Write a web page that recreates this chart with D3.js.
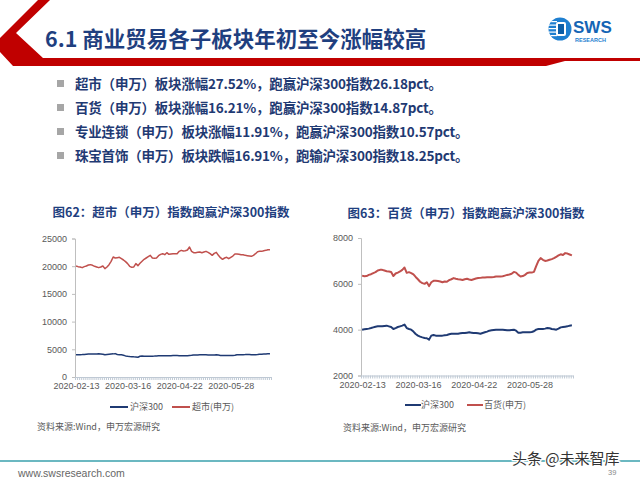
<!DOCTYPE html>
<html><head><meta charset="utf-8">
<script src="https://cdn.jsdelivr.net/npm/d3@7"></script>
<style>html,body{margin:0;padding:0;background:#fff;} svg{display:block;}</style>
</head><body><svg id="c" width="640" height="480"></svg>
<script>
// ---------------- DATA ----------------
const pageTitle = "6.1 商业贸易各子板块年初至今涨幅较高";
const bullets = [
  "超市（申万）板块涨幅27.52%，跑赢沪深300指数26.18pct。",
  "百货（申万）板块涨幅16.21%，跑赢沪深300指数14.87pct。",
  "专业连锁（申万）板块涨幅11.91%，跑赢沪深300指数10.57pct。",
  "珠宝首饰（申万）板块跌幅16.91%，跑输沪深300指数18.25pct。"
];
const dateLabels = ["2020-02-13", "2020-03-16", "2020-04-22", "2020-05-28"];
const dateLabelIndex = [0, 25, 50, 75];
const seriesNames = ["沪深300", "超市(申万)", "百货(申万)"];
const hs300 = [
  4000,4015,4030,4045,4070,4100,4130,4145,4145,4145,
  4160,4175,4145,4115,4030,4070,4115,4145,4175,4220,
  4070,4030,4000,3915,3810,3740,3695,3665,3640,3625,
  3565,3740,3770,3740,3740,3740,3740,3755,3770,3800,
  3825,3825,3825,3825,3840,3855,3855,3870,3885,3870,
  3855,3855,3840,3825,3855,3885,3915,3955,3970,3985,
  4000,4000,4000,4000,3985,3970,3970,3985,4000,3955,
  3870,3870,3885,3885,3885,3885,3900,3930,4000,4030,
  4030,4030,4045,4070,4060,4030,4015,4000,4045,4100,
  4115,4130,4145,4175,4190
];
const supermarket = [
  20040,19920,19860,19740,19920,20040,20220,20280,20160,19980,
  19860,19740,19860,20040,19560,19860,20280,20880,21660,21480,
  21540,21600,21360,21120,20820,20460,19980,19800,19860,20460,
  20100,20520,20880,21240,21480,21720,21960,21480,21420,21480,
  21900,22140,22260,22080,22440,22140,22200,22260,22260,22260,
  22680,22860,22740,22800,22920,23460,22680,22440,22440,22500,
  22560,22440,22560,22680,22500,22260,21960,22320,22500,21960,
  21540,21240,21480,21600,21360,21600,21840,22200,22200,22140,
  22080,22080,21960,21900,21840,21780,21960,22260,22620,22680,
  22680,22800,22860,22980,22980
];
const department = [
  6360,6330,6340,6390,6420,6470,6510,6580,6610,6610,
  6580,6550,6540,6520,6340,6450,6490,6540,6610,6710,
  6480,6510,6470,6410,6300,6200,6090,6030,6000,6070,
  5900,6070,6130,6130,6120,6100,6070,6100,6090,6160,
  6200,6250,6220,6200,6190,6170,6200,6220,6190,6170,
  6200,6230,6250,6260,6280,6280,6290,6290,6290,6300,
  6320,6320,6320,6330,6360,6390,6410,6440,6520,6490,
  6390,6320,6340,6390,6470,6490,6490,6520,6770,7000,
  7120,7050,7000,7020,7050,7080,7120,7180,7240,7290,
  7260,7340,7320,7280,7240
];
const leftTicks = [0, 5000, 10000, 15000, 20000, 25000];
const rightTicks = [2000, 4000, 6000, 8000];
const chartTitles = ["图62：超市（申万）指数跑赢沪深300指数", "图63：百货（申万）指数跑赢沪深300指数"];
const sourceNote = "资料来源:Wind，申万宏源研究";

// ---------------- DRAW ----------------
const svg = d3.select("#c");
const CJK = "'Noto Sans CJK SC','Noto Sans',sans-serif";
const LAT = "'Liberation Sans',Arial,sans-serif";
const NAVY = "#1F3A73";
const RED = "#C0504D";
const TITLEC = "#1F3F7F";

svg.append("rect").attr("width", 640).attr("height", 480).attr("fill", "#fff");

// header red shape
svg.append("polygon")
  .attr("points", "38,0 50,0 16,33 43,58 640,58 640,61 565,61 546,66 13,66 0,52 0,38")
  .attr("fill", "#C00000");

svg.append("text").attr("x", 45).attr("y", 47)
  .attr("font-family", CJK).attr("font-size", 21.5).attr("font-weight", 700)
  .attr("fill", TITLEC).text(pageTitle);

// logo
const logo = svg.append("g");
const defs = svg.append("defs");
defs.append("clipPath").attr("id", "lc").append("circle").attr("cx", 560).attr("cy", 29).attr("r", 11.5);
logo.append("circle").attr("cx", 560).attr("cy", 29).attr("r", 11.5).attr("fill", "#1E7FD0");
const lg = logo.append("g").attr("clip-path", "url(#lc)");
[21, 24.5, 28, 31.5, 35].forEach(y => lg.append("rect").attr("x", 548).attr("y", y).attr("width", 9).attr("height", 1.2).attr("fill", "#fff"));
lg.append("rect").attr("x", 556).attr("y", 22).attr("width", 10).attr("height", 14).attr("rx", 2).attr("fill", "#fff");
lg.append("rect").attr("x", 558).attr("y", 24).attr("width", 6).attr("height", 10).attr("fill", "#0D5FA8");
logo.append("text").attr("x", 573).attr("y", 33).attr("font-family", LAT).attr("font-weight", 700)
  .attr("font-size", 17).attr("fill", "#1565B5").text("SWS");
logo.append("text").attr("x", 575).attr("y", 41.5).attr("font-family", LAT).attr("font-weight", 700)
  .attr("font-size", 5.5).attr("fill", "#1E7FD0").text("RESEARCH");

// bullets
const bulletY = [84, 108, 132, 156];
bullets.forEach((t, i) => {
  svg.append("rect").attr("x", 57).attr("y", bulletY[i] - 4).attr("width", 7).attr("height", 7).attr("fill", "#A6A6A6");
  svg.append("text").attr("x", 75).attr("y", bulletY[i]).attr("dy", "0.36em")
    .attr("font-family", CJK).attr("font-size", 13.5).attr("font-weight", 700)
    .attr("letter-spacing", -0.2).attr("fill", NAVY).text(t);
});

// charts
const N = hs300.length;
function drawChart(cfg) {
  const g = svg.append("g");
  const xs = d3.scaleLinear().domain([0, N]).range([cfg.x0, cfg.x1]);
  const ys = d3.scaleLinear().domain([cfg.ticks[0], cfg.ticks[cfg.ticks.length - 1]]).range([cfg.yb, cfg.yt]);

  g.append("text").attr("x", cfg.titleX).attr("y", cfg.titleY).attr("dy", "0.36em")
    .attr("text-anchor", "middle").attr("font-family", CJK).attr("font-size", 12.5)
    .attr("font-weight", 700).attr("fill", TITLEC).text(cfg.title);

  const ya = g.append("g").attr("transform", `translate(${cfg.x0},0)`)
    .call(d3.axisLeft(ys).tickValues(cfg.ticks).tickSize(3).tickPadding(5).tickFormat(d3.format("d")));
  ya.select(".domain").attr("stroke", "#BFBFBF");
  ya.selectAll(".tick line").attr("stroke", "#BFBFBF");
  ya.selectAll(".tick text").attr("font-family", LAT).attr("font-size", 9).attr("fill", "#595959");

  const xa = g.append("g").attr("transform", `translate(0,${cfg.yb})`)
    .call(d3.axisBottom(xs).tickValues(d3.range(N + 1)).tickSize(3).tickSizeOuter(0).tickFormat(""));
  xa.select(".domain").attr("stroke", "#BFC9D4");
  xa.selectAll(".tick line").attr("stroke", "#BFC9D4");

  const xl = g.append("g").attr("transform", `translate(0,${cfg.yb})`)
    .call(d3.axisBottom(xs).tickValues(dateLabelIndex.map(i => i + 0.5)).tickSize(0).tickPadding(6)
      .tickFormat((d, k) => dateLabels[k]));
  xl.select(".domain").remove();
  xl.selectAll(".tick text").attr("font-family", LAT).attr("font-size", 9).attr("fill", "#595959");

  const line = d3.line().x((d, i) => xs(i + 0.5)).y(d => ys(d));
  g.append("path").datum(hs300).attr("d", line).attr("fill", "none")
    .attr("stroke", NAVY).attr("stroke-width", cfg.sw).attr("stroke-linejoin", "round");
  g.append("path").datum(cfg.data).attr("d", line).attr("fill", "none")
    .attr("stroke", RED).attr("stroke-width", cfg.sw).attr("stroke-linejoin", "round");

  // legend
  const L = cfg.legend;
  g.append("line").attr("x1", L[0]).attr("x2", L[0] + L[4]).attr("y1", L[5]).attr("y2", L[5]).attr("stroke", NAVY).attr("stroke-width", 2);
  g.append("text").attr("x", L[1]).attr("y", L[5]).attr("dy", "0.36em").attr("font-family", CJK).attr("font-size", 9).attr("fill", "#595959").text(seriesNames[0]);
  g.append("line").attr("x1", L[2]).attr("x2", L[2] + L[4]).attr("y1", L[5]).attr("y2", L[5]).attr("stroke", RED).attr("stroke-width", 2);
  g.append("text").attr("x", L[3]).attr("y", L[5]).attr("dy", "0.36em").attr("font-family", CJK).attr("font-size", 9).attr("fill", "#595959").text(cfg.name);

  g.append("text").attr("x", cfg.srcX).attr("y", cfg.srcY).attr("dy", "0.36em").attr("font-family", CJK)
    .attr("font-size", 9).attr("fill", "#595959").text(sourceNote);
}

drawChart({x0: 75, x1: 271, yb: 377, yt: 238.5, ticks: leftTicks, data: supermarket, name: seriesNames[1],
  title: chartTitles[0], titleX: 171, titleY: 212, sw: 1.5,
  legend: [110, 130, 172, 192, 18, 407], srcX: 37, srcY: 427});
drawChart({x0: 361, x1: 573, yb: 375.5, yt: 238, ticks: rightTicks, data: department, name: seriesNames[2],
  title: chartTitles[1], titleX: 466, titleY: 213, sw: 2,
  legend: [405, 421, 467, 484, 16, 405], srcX: 343, srcY: 428});

// footer
svg.append("line").attr("x1", 0).attr("x2", 640).attr("y1", 461).attr("y2", 461).attr("stroke", "#3AA0AD").attr("stroke-width", 1.5);
svg.append("text").attr("x", 18).attr("y", 473).attr("dy", "0.36em").attr("font-family", LAT).attr("font-size", 10.5).attr("fill", "#666").text("www.swsresearch.com");
svg.append("text").attr("x", 608).attr("y", 472).attr("dy", "0.36em").attr("font-family", LAT).attr("font-size", 7.5).attr("fill", "#888").text("39");
svg.append("text").attr("x", 512).attr("y", 459).attr("dy", "0.36em").attr("font-family", CJK).attr("font-size", 15)
  .attr("fill", "#333").attr("stroke", "#fff").attr("stroke-width", 2.5).attr("paint-order", "stroke").text("头条 @未来智库");
</script></body></html>
